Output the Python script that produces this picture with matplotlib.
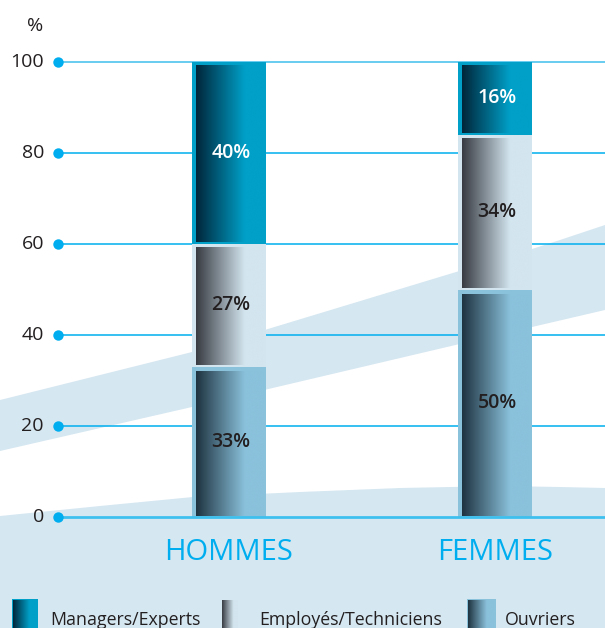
import numpy as np
import matplotlib.pyplot as plt
from matplotlib.colors import LinearSegmentedColormap

# data
categories = ["HOMMES", "FEMMES"]
ouvriers = [33, 50]
employes = [27, 34]
managers = [40, 16]
y_ticks = [0, 20, 40, 60, 80, 100]
legend_labels = ["Managers/Experts", "Employés/Techniciens", "Ouvriers"]

W, H = 605, 628
FONT = "Open Sans"
cyan = "#00aeef"
txt_dark = "#231f20"
bg_blue = "#d5e7f1"

# (outer colour, gradient dark end, label colour)
styles = {
    "Managers/Experts": ("#00a0c8", "#00263a", "white"),
    "Employés/Techniciens": ("#d3e5ef", "#383b42", txt_dark),
    "Ouvriers": ("#8ac1db", "#1e3340", txt_dark),
}

# pixel geometry of the plot area
y0_px, y100_px = 517, 62
x_cat0, x_cat1 = 228, 494
px_per_x = x_cat1 - x_cat0
px_per_y = (y0_px - y100_px) / 100.0


def px_to_x(px):
    return (px - x_cat0) / px_per_x


def grad_cmap(dark, light):
    return LinearSegmentedColormap.from_list("g", [(0, dark), (0.72, light), (1, light)])


grad = np.linspace(0, 1, 256).reshape(1, -1)

fig = plt.figure(figsize=(W / 100, H / 100), dpi=100)

# background decoration in pixel space
bg = fig.add_axes([0, 0, 1, 1])
bg.set_xlim(0, W)
bg.set_ylim(H, 0)
bg.axis("off")
band_top = [(0, 400), (192, 352), (532, 249), (560, 240), (605, 225)]
band_bot = [(605, 310), (532, 327), (192, 407), (0, 451)]
band = band_top + band_bot
bg.fill([p[0] for p in band], [p[1] for p in band], color=bg_blue, lw=0)
curve_x = np.array([0, 100, 193, 300, 400, 502, 560, 605])
curve_y = np.array([516, 506, 497, 492, 488, 486, 487, 488])
bg.fill_between(curve_x, curve_y, H, color=bg_blue, lw=0)

# main chart axes
ax = fig.add_axes([0, (H - y0_px) / H, 1, (y0_px - y100_px) / H])
ax.patch.set_alpha(0)
ax.axis("off")
xlim = (px_to_x(0), px_to_x(W))

# grid lines with dots
x_start = px_to_x(58)
for t in y_ticks:
    lw = 2.0 if t == 0 else 1.1
    col = "#3ec0ee" if t in (0, 100) else cyan
    z = 5 if t == 0 else 1
    ax.plot([x_start, xlim[1]], [t, t], color=col, lw=lw, zorder=z, clip_on=False, solid_capstyle="butt")
    ax.plot(x_start, t, "o", color=cyan, ms=7.5, zorder=z, clip_on=False, mec="none")
    ax.text(px_to_x(44), t, str(t), ha="right", va="center", fontsize=14, color=txt_dark,
            family=FONT, clip_on=False)
ax.text(px_to_x(35), 100 + (y100_px - 26) / px_per_y, "%", ha="center", va="center",
        fontsize=14, color=txt_dark, family=FONT)

bar_w = 73 / px_per_x
dxl, dxr = 4 / px_per_x, 2 / px_per_x
dyt, dyb = 4 / px_per_y, 1.5 / px_per_y

series = [("Ouvriers", ouvriers), ("Employés/Techniciens", employes), ("Managers/Experts", managers)]
for i, cat in enumerate(categories):
    x = i + 1 / px_per_x
    bottom = 0
    for name, vals in series:
        v = vals[i]
        outer, dark, lab_col = styles[name]
        ax.bar(x, v, bottom=bottom, width=bar_w, color=outer, lw=0, zorder=2)
        left = x - bar_w / 2
        ax.imshow(grad, cmap=grad_cmap(dark, outer), aspect="auto", interpolation="bilinear",
                  extent=[left + dxl, left + bar_w - dxr, bottom + dyb, bottom + v - dyt], zorder=3)
        ax.text(x + 2 / px_per_x, bottom + v / 2, f"{v}%", ha="center", va="center", fontsize=14,
                fontweight="semibold", color=lab_col, family=FONT, zorder=4)
        bottom += v
    ax.text(x, -(553 - y0_px) / px_per_y, cat, ha="center", va="center", fontsize=21,
            color=cyan, family=FONT, clip_on=False)

ax.set_xlim(*xlim)
ax.set_ylim(0, 100)

# legend in pixel space
leg = [
    ("Managers/Experts", (12, 38), 50),
    ("Employés/Techniciens", (221, 240), 259),
    ("Ouvriers", (467, 496), 505),
]
for name, (sx0, sx1), tx in leg:
    outer, dark, _ = styles[name]
    if name != "Employés/Techniciens":
        bg.fill([sx0, sx1, sx1, sx0], [599, 599, 628, 628], color=outer, lw=0)
    bg.imshow(grad, cmap=grad_cmap(dark, outer), aspect="auto", interpolation="bilinear",
              extent=[sx0 + 1, sx1 - 2, 628, 600], zorder=3)
    bg.text(tx, 620, name, ha="left", va="center", fontsize=12.8, color=txt_dark, family=FONT)
bg.set_xlim(0, W)
bg.set_ylim(H, 0)

fig.savefig("out.png", dpi=100)
